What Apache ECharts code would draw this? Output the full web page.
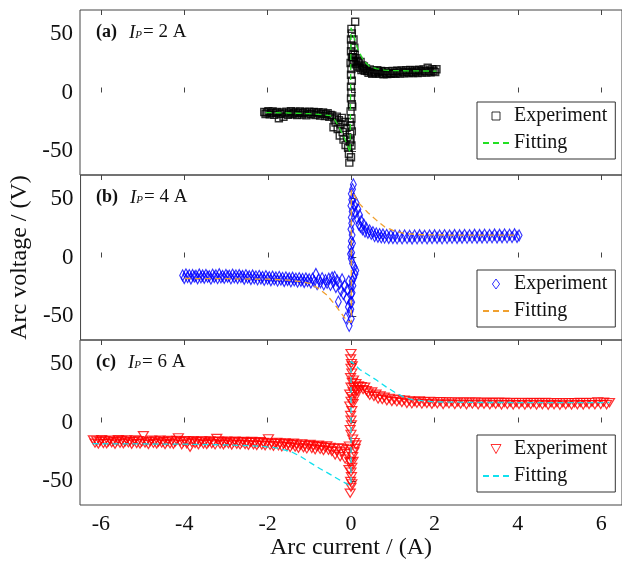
<!DOCTYPE html>
<html>
	<head>
		<meta charset="utf-8" />
		<script type="text/javascript" src="https://cdn.jsdelivr.net/npm/echarts@6/dist/echarts.min.js"></script>
		<title></title>
	</head>
	<body style="margin:0">
		<div id="chartmain" style="width:622px; height:561px;"></div>
		<script type="text/javascript">
var serif = "'Times New Roman', 'Liberation Serif', serif";

// tick labels
var xTicks = [-6, -4, -2, 0, 2, 4, 6];
var yTicks = [-50, 0, 50];
var panelTitles = ['(a)', '(b)', '(c)'];
var panelCurrents = ['2 A', '4 A', '6 A'];

// (a) IP = 2 A, measured [current, voltage]
var expA = [
[-2.08,-16.5],[-2.05,-18.2],[-2.02,-17.0],[-1.98,-15.8],[-1.95,-18.6],[-1.91,-17.3],[-1.88,-16.1],[-1.84,-19.0],[-1.80,-17.5],[-1.77,-16.4],
[-1.73,-21.8],[-1.70,-18.3],[-1.66,-16.9],[-1.62,-20.6],[-1.59,-17.8],[-1.55,-16.2],[-1.51,-18.9],[-1.48,-17.1],[-1.44,-15.9],[-1.40,-18.4],
[-1.37,-17.6],[-1.33,-16.3],[-1.29,-19.2],[-1.26,-17.4],[-1.22,-16.0],[-1.18,-18.7],[-1.15,-17.2],[-1.11,-16.5],[-1.07,-19.4],[-1.04,-17.9],
[-1.00,-16.2],[-0.96,-18.5],[-0.93,-17.0],[-0.89,-16.4],[-0.85,-19.1],[-0.82,-17.7],[-0.78,-16.8],[-0.74,-19.6],[-0.71,-18.0],[-0.67,-16.9],
[-0.63,-20.0],[-0.60,-18.4],[-0.56,-17.5],[-0.52,-20.7],[-0.49,-19.0],[-0.45,-19.5],[-0.42,-29.5],[-0.40,-22.0],[-0.37,-25.5],[-0.34,-20.5],
[-0.32,-31.0],[-0.29,-23.5],[-0.27,-36.5],[-0.25,-27.0],[-0.22,-21.5],[-0.20,-33.5],[-0.18,-40.0],[-0.15,-25.0],[-0.13,-44.5],[-0.11,-30.0],
[-0.09,-38.0],[-0.07,-47.0],[-0.05,-52.0],[-0.04,-59.5],[-0.03,-42.0],[-0.02,-35.0],
[0.00,-55],[0.01,-45],[-0.01,-40],[0.02,-33],[0.00,-28],[0.01,-22],[-0.01,-16],[0.02,-10],[0.00,-5],[0.01,0],[0.00,5],[0.02,10],
[0.00,15],[0.01,20],[-0.01,25],[0.02,30],[0.00,35],[0.01,40],[0.00,45],[0.02,50],[0.01,54],[0.05,33],[0.04,27],[-0.03,-25],[0.03,-12],
[0.10,60.0],[0.06,45],[0.08,38],
[0.05,30],[0.07,26],[0.09,32],[0.11,24],[0.13,29],[0.15,22],[0.17,27],[0.19,25],[0.21,21],[0.23,26],[0.25,19],[0.27,23],[0.29,20],[0.31,22],
[0.33,18.5],[0.36,20.5],
[0.39,18.2],[0.42,16.8],[0.45,19.5],[0.48,17.3],[0.51,15.9],[0.54,18.6],[0.57,17.0],[0.60,16.2],[0.63,18.9],[0.66,17.4],[0.69,15.8],[0.72,18.3],
[0.75,16.9],[0.78,15.5],[0.81,18.0],[0.84,16.6],[0.87,15.7],[0.90,17.9],[0.94,16.4],[0.97,15.9],[1.00,18.2],[1.04,16.7],[1.07,15.8],[1.11,18.4],
[1.14,17.1],[1.18,16.0],[1.21,18.7],[1.25,17.3],[1.28,16.2],[1.32,18.9],[1.35,17.5],[1.39,16.4],[1.42,19.1],[1.46,17.6],[1.49,16.5],[1.53,19.0],
[1.56,17.8],[1.60,16.6],[1.63,19.3],[1.67,18.0],[1.70,16.9],[1.74,19.6],[1.77,18.2],[1.81,17.0],[1.84,21.0],[1.88,18.4],[1.91,17.2],[1.95,19.8],
[1.98,18.5],[2.02,17.4],[2.05,19.7]
];
var fitA = [[-2.05,-17.0],[-1.5,-17.4],[-1.0,-18.0],[-0.7,-18.8],[-0.5,-19.6],[-0.4,-22.5],[-0.3,-28.5],[-0.2,-35.5],[-0.1,-43.5],[-0.02,-51],
[0,-51],[0,55],[0.05,50],[0.15,38],[0.3,27],[0.45,22],[0.6,20.3],[0.8,19],[1.0,18.6],[1.5,18.3],[2.05,18.2]];

// (b) IP = 4 A
var expB = [
[-4.05,-15.2],[-4.01,-17.4],[-3.97,-14.3],[-3.93,-16.6],[-3.89,-15.0],[-3.85,-17.8],[-3.81,-14.9],[-3.77,-16.2],[-3.73,-15.5],[-3.69,-17.6],
[-3.65,-14.4],[-3.61,-16.8],[-3.57,-15.3],[-3.53,-17.2],[-3.49,-14.7],[-3.45,-16.4],[-3.41,-15.8],[-3.37,-17.9],[-3.33,-14.6],[-3.29,-16.5],
[-3.25,-15.1],[-3.21,-17.5],[-3.17,-14.2],[-3.13,-16.9],[-3.09,-15.6],[-3.05,-17.3],[-3.01,-14.8],[-2.97,-16.3],[-2.93,-15.4],[-2.89,-17.7],
[-2.85,-14.5],[-2.81,-16.7],[-2.77,-15.2],[-2.73,-17.4],[-2.69,-14.9],[-2.65,-16.6],[-2.61,-15.7],[-2.57,-18.0],[-2.53,-15.0],[-2.49,-17.1],
[-2.45,-15.9],[-2.41,-18.2],[-2.37,-15.3],[-2.33,-17.6],[-2.29,-16.0],[-2.25,-18.5],[-2.21,-15.6],[-2.17,-17.8],[-2.13,-16.4],[-2.09,-19.0],
[-2.05,-15.8],[-2.01,-18.1],[-1.97,-16.7],[-1.93,-19.3],[-1.89,-16.2],[-1.85,-18.6],[-1.81,-17.0],[-1.77,-19.6],[-1.73,-16.5],[-1.69,-18.8],
[-1.65,-17.3],[-1.61,-19.9],[-1.57,-16.9],[-1.53,-19.1],[-1.49,-17.6],[-1.45,-20.2],[-1.41,-17.2],[-1.37,-19.4],[-1.33,-17.9],[-1.29,-20.5],
[-1.25,-17.5],[-1.21,-19.7],[-1.17,-18.2],[-1.13,-20.8],[-1.09,-17.8],[-1.05,-20.0],[-1.01,-18.5],[-0.97,-21.2],[-0.93,-18.0],[-0.89,-20.3],
[-0.85,-14.0],[-0.82,-22.5],[-0.78,-18.6],[-0.74,-21.0],[-0.70,-17.5],[-0.66,-22.8],[-0.62,-19.2],[-0.58,-21.5],[-0.54,-18.0],[-0.50,-23.2],
[-0.46,-17.0],[-0.43,-20.8],[-0.40,-16.5],[-0.37,-25.0],[-0.34,-19.5],[-0.31,-37.5],[-0.28,-22.0],[-0.25,-28.0],[-0.22,-18.5],[-0.19,-31.0],
[-0.16,-24.0],[-0.13,-51.5],[-0.11,-35.0],[-0.09,-27.0],[-0.07,-42.0],[-0.06,-20.0],[-0.05,-58.0],[-0.03,-46.0],[-0.02,-38.0],
[0.00,-52],[-0.01,-44],[0.01,-38],[0.00,-31],[-0.01,-25],[0.02,-20],[0.06,-17],[0.09,-14],[0.11,-11],[0.07,-8],[0.03,-5],[0.00,-1],[0.01,4],
[-0.01,9],[0.00,14],[0.02,19],[-0.01,24],[0.01,29],[0.00,34],[0.02,39],[-0.01,44],[0.01,49],[0.00,54],[0.03,58],[0.05,62],[0.02,-30],[0.04,-24],
[-0.02,3],[0.03,12],
[0.06,50],[0.08,44],[0.10,38],[0.12,46],[0.14,33],[0.16,41],[0.18,28],[0.20,36],[0.22,26],[0.24,31],[0.27,24],[0.30,28],[0.33,22],[0.36,25],
[0.40,21],[0.44,23],[0.48,20],
[0.52,21.5],[0.56,18.2],[0.60,20.4],[0.64,17.6],[0.68,19.8],[0.72,17.1],[0.76,19.5],[0.80,16.9],[0.85,19.2],[0.90,16.6],[0.95,18.9],[1.00,16.4],
[1.05,18.7],[1.10,16.3],[1.16,18.6],[1.22,16.2],[1.28,18.8],[1.34,16.4],[1.40,18.5],[1.46,16.1],[1.52,18.7],[1.58,16.3],[1.64,18.9],[1.70,16.5],
[1.76,18.6],[1.82,16.2],[1.88,18.8],[1.94,16.4],[2.00,18.9],[2.06,16.6],[2.12,18.7],[2.18,16.3],[2.24,19.0],[2.30,16.5],[2.36,18.8],[2.42,16.7],
[2.48,19.1],[2.54,16.6],[2.60,18.9],[2.66,16.8],[2.72,19.2],[2.78,16.7],[2.84,19.0],[2.90,16.9],[2.96,19.3],[3.02,16.8],[3.08,19.1],[3.14,17.0],
[3.20,19.4],[3.26,16.9],[3.32,19.2],[3.38,17.1],[3.44,19.5],[3.50,17.0],[3.56,19.3],[3.62,17.2],[3.68,19.6],[3.74,17.1],[3.80,19.4],[3.86,17.3],
[3.92,19.7],[3.98,17.4],[4.03,18.8]
];
var fitB = [[-4.0,-17.8],[-3,-18.0],[-2,-18.4],[-1.5,-19.2],[-1.2,-20.5],[-1.0,-22.0],[-0.8,-26],[-0.58,-32],[-0.35,-42],[-0.1,-54],
[0,-55],[0,57],[0.2,45.5],[0.4,38],[0.61,31.5],[0.8,26],[1.0,23],[1.3,20.2],[1.7,19.3],[2.5,19],[4.0,19]];

// (c) IP = 6 A
var expC = [
[-6.18,-14.8],[-6.14,-17.5],[-6.10,-15.6],[-6.06,-18.3],[-6.02,-16.1],[-5.98,-14.5],[-5.94,-17.8],[-5.90,-15.3],[-5.86,-18.0],[-5.82,-16.4],
[-5.78,-14.9],[-5.74,-17.2],[-5.70,-15.8],[-5.66,-18.4],[-5.62,-16.0],[-5.58,-14.6],[-5.54,-17.6],[-5.50,-15.2],[-5.46,-18.1],[-5.42,-16.5],
[-5.38,-14.8],[-5.34,-17.3],[-5.30,-15.9],[-5.26,-18.5],[-5.22,-16.2],[-5.18,-14.7],[-5.14,-17.9],[-5.10,-15.4],[-5.06,-18.2],[-5.02,-16.6],
[-4.98,-11.2],[-4.94,-17.4],[-4.90,-15.7],[-4.86,-18.6],[-4.82,-16.3],[-4.78,-14.9],[-4.74,-17.7],[-4.70,-15.5],[-4.66,-18.3],[-4.62,-16.7],
[-4.58,-15.0],[-4.54,-17.5],[-4.50,-16.0],[-4.46,-18.7],[-4.42,-16.4],[-4.38,-15.1],[-4.34,-18.0],[-4.30,-15.6],[-4.26,-18.4],[-4.22,-16.8],
[-4.18,-15.2],[-4.14,-13.0],[-4.10,-16.1],[-4.06,-18.8],[-4.02,-16.5],[-3.98,-15.3],[-3.94,-18.1],[-3.90,-15.7],[-3.86,-21.0],[-3.82,-16.9],
[-3.78,-15.4],[-3.74,-17.9],[-3.70,-16.2],[-3.66,-18.9],[-3.62,-16.6],[-3.58,-15.5],[-3.54,-18.2],[-3.50,-15.8],[-3.46,-18.6],[-3.42,-17.0],
[-3.38,-15.6],[-3.34,-18.0],[-3.30,-16.3],[-3.26,-19.0],[-3.22,-13.5],[-3.18,-15.7],[-3.14,-18.3],[-3.10,-16.0],[-3.06,-18.8],[-3.02,-17.1],
[-2.98,-15.8],[-2.94,-18.1],[-2.90,-16.4],[-2.86,-19.1],[-2.82,-16.8],[-2.78,-15.9],[-2.74,-18.5],[-2.70,-16.2],[-2.66,-19.0],[-2.62,-17.3],
[-2.58,-16.0],[-2.54,-18.7],[-2.50,-16.5],[-2.46,-19.3],[-2.42,-17.0],[-2.38,-16.1],[-2.34,-18.9],[-2.30,-16.7],[-2.26,-19.5],[-2.22,-17.4],
[-2.18,-16.3],[-2.14,-19.1],[-2.10,-16.9],[-2.06,-19.8],[-2.02,-17.6],[-1.98,-13.8],[-1.94,-19.4],[-1.90,-17.2],[-1.86,-20.2],[-1.82,-17.9],
[-1.78,-16.8],[-1.74,-19.8],[-1.70,-17.6],[-1.66,-20.6],[-1.62,-18.3],[-1.58,-17.2],[-1.54,-20.3],[-1.50,-18.0],[-1.46,-21.2],[-1.42,-18.8],
[-1.38,-17.6],[-1.34,-20.8],[-1.30,-18.5],[-1.26,-21.8],[-1.22,-19.3],[-1.18,-18.1],[-1.14,-21.5],[-1.10,-19.1],[-1.06,-22.4],[-1.02,-19.8],
[-0.98,-18.6],[-0.94,-22.0],[-0.90,-19.7],[-0.86,-23.1],[-0.82,-20.5],[-0.78,-19.2],[-0.74,-22.8],[-0.70,-20.3],[-0.66,-23.8],[-0.62,-21.2],
[-0.58,-19.8],[-0.54,-23.5],[-0.50,-21.0],[-0.46,-24.6],[-0.42,-22.0],[-0.38,-27.5],[-0.34,-24.2],[-0.30,-21.5],[-0.26,-29.0],[-0.22,-25.0],
[-0.18,-22.0],[-0.14,-31.0],[-0.10,-26.5],[-0.07,-23.0],[-0.05,-40.0],[-0.03,-33.0],
[-0.02,-60],[0.00,-55],[-0.01,-50],[0.01,-46],[0.00,-42],[0.02,-38],[-0.01,-34],[0.04,-29],[0.07,-25],[0.10,-22],[0.12,-19],[0.08,-17],
[0.04,-14],[0.00,-10],[-0.02,-6],[0.01,-2],[0.00,2],[-0.01,6],[0.02,10],[-0.03,14],[0.00,18],[0.02,22],[0.05,26],[0.00,30],[0.03,34],
[-0.01,38],[0.02,42],[0.00,46],[0.01,50],[-0.01,54],[0.00,58.5],[0.02,-52],[0.05,-33],[-0.04,-20],[0.05,16],[0.08,20],[-0.03,24],[0.10,28],
[0.06,36],[0.03,48],[0.06,30],[0.09,24],
[0.12,33],[0.15,27],[0.18,31],[0.21,28],[0.25,30.5],[0.29,28],[0.33,30],[0.37,27],[0.41,25],[0.45,23],[0.50,26],[0.55,22],[0.60,24],[0.65,20],
[0.70,22.5],[0.75,19.5],[0.80,21.5],[0.86,18.5],[0.92,20.5],[0.98,17.8],[1.04,19.8],[1.10,17.5],[1.16,19.3],
[1.22,17.0],[1.28,19.0],[1.34,16.2],[1.40,18.4],[1.46,15.8],[1.52,17.9],[1.58,16.4],[1.64,18.3],[1.70,15.6],[1.76,17.7],[1.82,16.1],[1.88,18.0],
[1.94,15.4],[2.00,17.5],[2.07,15.9],[2.14,17.8],[2.21,15.3],[2.28,17.4],[2.35,15.8],[2.42,17.6],[2.49,15.2],[2.56,17.3],[2.63,15.7],[2.70,17.5],
[2.77,15.1],[2.84,17.2],[2.91,15.6],[2.98,17.4],[3.05,15.0],[3.12,17.1],[3.19,15.5],[3.26,17.3],[3.33,15.0],[3.40,17.0],[3.47,15.4],[3.54,17.2],
[3.61,14.9],[3.68,17.0],[3.75,15.3],[3.82,17.1],[3.89,14.9],[3.96,16.9],[4.03,15.2],[4.10,17.1],[4.17,14.8],[4.24,16.8],[4.31,15.2],[4.38,17.0],
[4.45,14.8],[4.52,16.8],[4.59,15.1],[4.66,17.0],[4.73,14.7],[4.80,16.7],[4.87,15.1],[4.94,16.9],[5.01,14.7],[5.08,16.7],[5.15,15.0],[5.22,16.9],
[5.29,14.8],[5.36,16.8],[5.43,15.1],[5.50,17.0],[5.57,14.9],[5.64,16.9],[5.71,15.2],[5.78,17.1],[5.85,15.0],[5.92,17.6],[5.99,15.3],[6.06,17.2],
[6.13,15.1],[6.20,16.8]
];
var fitC = [[-6.2,-18],[-4,-18.4],[-3,-19],[-2.2,-20],[-1.8,-21.5],[-1.45,-24.5],[-1.2,-29],[-0.98,-34],[-0.75,-39],[-0.5,-44],[-0.26,-49],
[-0.05,-53],[0,-53],[0,52],[0.21,45],[0.61,36],[0.85,30],[1.08,25],[1.3,21],[1.48,19.3],[2,17.5],[3,17],[6.2,16.8]];

var expData = [expA, expB, expC];
var fitData = [fitA, fitB, fitC];
var expColors = ['#000000', '#0000ff', '#ff0000'];
var fitColors = ['#22e022', '#f0a030', '#10e0ee'];
// square, diamond, downward triangle
var symbols = ['path://M0,0L8,0L8,8L0,8Z', 'path://M4,0L8,5.5L4,11L0,5.5Z', 'path://M0,0L10,0L5,9Z'];
var symbolSizes = [[7, 7], [8, 11], [10, 9]];
var legendSymbolH = [8, 10, 9];
var tags = ['a', 'b', 'c'];

var gridTops = [10, 175, 340];
var legendTops = [102, 270, 435];
var lineCol = '#444';

var grids = [], xAxes = [], yAxes = [], series = [], legends = [], titles = [];
for (var i = 0; i < 3; i++) {
  grids.push({ left: 80, right: -6, top: gridTops[i], height: 165, show: true, borderColor: lineCol, borderWidth: 1 });
  // bottom axis (carries data), top axis (ticks only)
  ['bottom', 'top'].forEach(function (pos) {
    xAxes.push({
      type: 'value', gridIndex: i, position: pos, min: -6.5, max: 6.5,
      splitLine: { show: false },
      axisLine: { show: false },
      axisTick: { show: true, inside: true, length: 5, customValues: xTicks, lineStyle: { color: lineCol } },
      axisLabel: {
        show: pos === 'bottom' && i === 2, customValues: xTicks, margin: 8,
        fontFamily: serif, fontSize: 22, color: '#111',
        formatter: function (v) { return String(v); }
      },
      name: (pos === 'bottom' && i === 2) ? 'Arc current / (A)' : '',
      nameLocation: 'middle', nameGap: 31,
      nameTextStyle: { fontFamily: serif, fontSize: 24, color: '#111' }
    });
  });
  yAxes.push({
    type: 'value', gridIndex: i, min: -70, max: 70,
    splitLine: { show: false },
    axisLine: { show: false },
    axisTick: { show: true, inside: true, length: 5, customValues: yTicks, lineStyle: { color: lineCol } },
    axisLabel: { customValues: yTicks, margin: 7, fontFamily: serif, fontSize: 23, color: '#111' },
    name: i === 1 ? 'Arc voltage / (V)' : '',
    nameLocation: 'middle', nameGap: 46,
    nameTextStyle: { fontFamily: serif, fontSize: 24, color: '#111' }
  });
  series.push({
    name: 'Experiment#' + tags[i], type: 'scatter',
    xAxisIndex: i * 2, yAxisIndex: i,
    symbol: symbols[i], symbolSize: symbolSizes[i], symbolKeepAspect: true,
    itemStyle: { color: 'rgba(0,0,0,0)', borderColor: expColors[i], borderWidth: i === 0 ? 1.4 : 1.2 },
    data: expData[i]
  });
  series.push({
    name: 'Fitting#' + tags[i], type: 'line',
    xAxisIndex: i * 2, yAxisIndex: i,
    symbol: 'none', showSymbol: false,
    itemStyle: { color: 'rgba(0,0,0,0)' },
    lineStyle: { color: fitColors[i], width: 1.3, type: [6, 4] },
    data: fitData[i]
  });
  legends.push({
    data: [
      { name: 'Experiment#' + tags[i], icon: symbols[i] },
      { name: 'Fitting#' + tags[i], itemStyle: { color: 'rgba(0,0,0,0)', borderWidth: 0 } }
    ],
    orient: 'vertical', left: 477, top: legendTops[i],
    padding: [4, 8, 6, 5], itemGap: 7,
    itemWidth: 26, itemHeight: legendSymbolH[i],
    symbolKeepAspect: true,
    borderColor: '#333', borderWidth: 1, backgroundColor: '#fff',
    selectedMode: false,
    itemStyle: { borderWidth: 1 },
    textStyle: { fontFamily: serif, fontSize: 20, color: '#111' },
    formatter: function (name) { return name.split('#')[0]; }
  });
  titles.push({
    left: 96, top: gridTops[i] + 13, padding: 0,
    text: '{b|' + panelTitles[i] + '}{i|I}{s|P}{n|= ' + panelCurrents[i] + '}',
    textStyle: {
      fontWeight: 'normal',
      rich: {
        b: { fontFamily: serif, fontSize: 18, fontWeight: 'bold', color: '#111', padding: [0, 12, 0, 0] },
        i: { fontFamily: serif, fontSize: 19, fontWeight: 'normal', fontStyle: 'italic', color: '#111' },
        s: { fontFamily: serif, fontSize: 11, fontWeight: 'normal', fontStyle: 'italic', color: '#111', padding: [5, 1, 0, 0] },
        n: { fontFamily: serif, fontSize: 19, fontWeight: 'normal', color: '#111' }
      }
    }
  });
}

var option = {
  animation: false,
  backgroundColor: '#fff',
  title: titles,
  legend: legends,
  grid: grids,
  xAxis: xAxes,
  yAxis: yAxes,
  series: series
};

var myChart = echarts.init(document.getElementById('chartmain'));
myChart.setOption(option);

window.addEventListener('resize', function () {
  myChart.resize()
})
		</script>
	</body>
</html>
